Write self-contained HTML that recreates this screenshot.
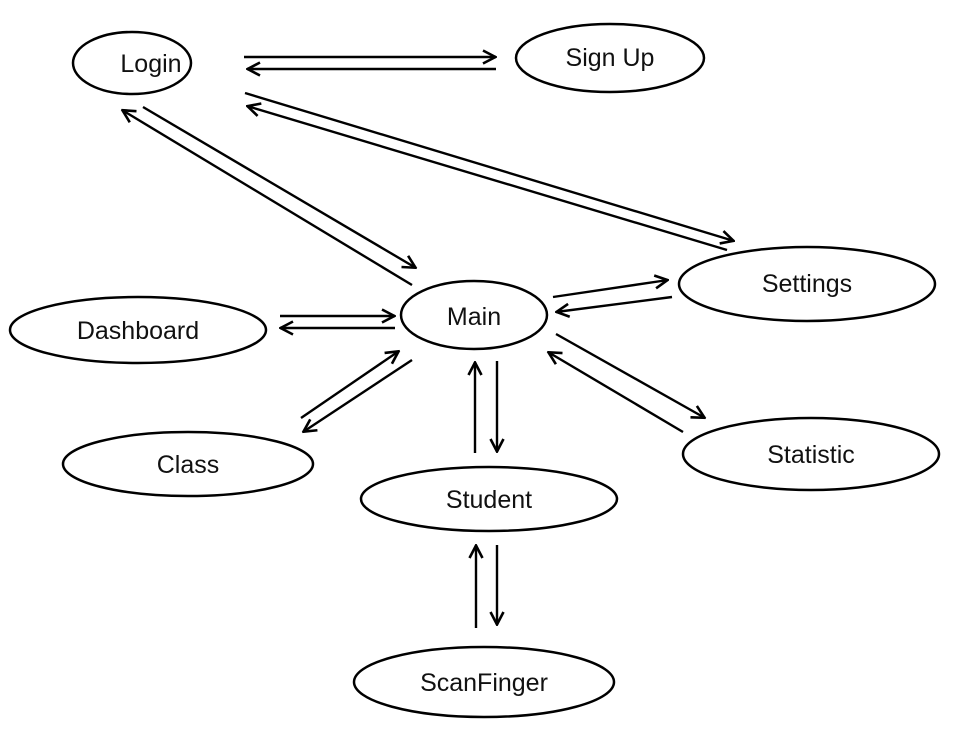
<!DOCTYPE html>
<html><head><style>
html,body{margin:0;padding:0;background:#fff;}
svg{display:block;}
text{font-family:"Liberation Sans",sans-serif;font-size:25px;fill:#111;text-anchor:middle;dominant-baseline:central;}
</style></head><body>
<svg width="974" height="750" viewBox="0 0 974 750">
<defs>
<marker id="a" viewBox="0 0 16 16" refX="15" refY="8" markerWidth="16" markerHeight="16" markerUnits="userSpaceOnUse" orient="auto">
<path d="M2,1.5 L14.5,8 L2,14.5" fill="none" stroke="#000" stroke-width="2.6"/>
</marker>
</defs>
<g fill="none" stroke="#000" stroke-width="2.5">
<ellipse cx="132" cy="63" rx="59" ry="31"/>
<ellipse cx="610" cy="58" rx="94" ry="34"/>
<ellipse cx="807" cy="284" rx="128" ry="37"/>
<ellipse cx="474" cy="315" rx="73" ry="34"/>
<ellipse cx="138" cy="330" rx="128" ry="33"/>
<ellipse cx="188" cy="464" rx="125" ry="32"/>
<ellipse cx="489" cy="499" rx="128" ry="32"/>
<ellipse cx="811" cy="454" rx="128" ry="36"/>
<ellipse cx="484" cy="682" rx="130" ry="35"/>
</g>
<g stroke="#000" stroke-width="2.4" fill="none" marker-end="url(#a)">
<line x1="244" y1="57" x2="496" y2="57"/>
<line x1="496" y1="69" x2="247" y2="69"/>
<line x1="143" y1="107" x2="416" y2="268"/>
<line x1="412" y1="285" x2="122" y2="110"/>
<line x1="245" y1="93" x2="734" y2="241"/>
<line x1="727" y1="250" x2="247" y2="106"/>
<line x1="280" y1="316" x2="395" y2="316"/>
<line x1="395" y1="328" x2="280" y2="328"/>
<line x1="553" y1="297" x2="668" y2="280"/>
<line x1="672" y1="297" x2="556" y2="312"/>
<line x1="301" y1="418" x2="399" y2="351"/>
<line x1="412" y1="360" x2="303" y2="432"/>
<line x1="556" y1="334" x2="705" y2="418"/>
<line x1="683" y1="432" x2="548" y2="352"/>
<line x1="475" y1="453" x2="475" y2="362"/>
<line x1="497" y1="361" x2="497" y2="452"/>
<line x1="476" y1="628" x2="476" y2="545"/>
<line x1="497" y1="545" x2="497" y2="625"/>
</g>
<text x="151" y="64">Login</text>
<text x="610" y="58">Sign Up</text>
<text x="807" y="284">Settings</text>
<text x="474" y="317">Main</text>
<text x="138" y="331">Dashboard</text>
<text x="188" y="465">Class</text>
<text x="489" y="500">Student</text>
<text x="811" y="455">Statistic</text>
<text x="484" y="683">ScanFinger</text>
</svg>
</body></html>
